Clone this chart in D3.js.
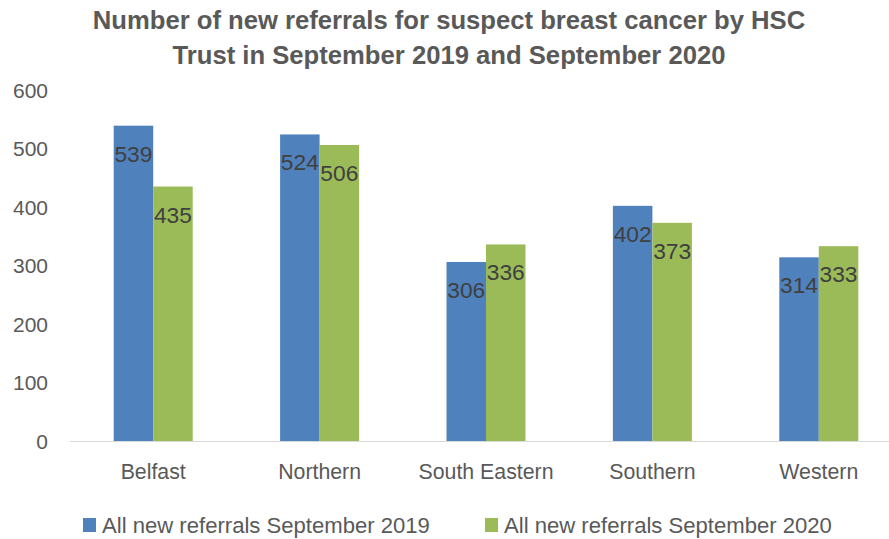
<!DOCTYPE html>
<html><head><meta charset="utf-8">
<script src="https://cdn.jsdelivr.net/npm/d3@7"></script>
<style>body{margin:0;background:#fff}svg{display:block}</style>
</head><body>
<div id="c"></div>
<script>
const categories = ["Belfast","Northern","South Eastern","Southern","Western"];
const seriesNames = ["All new referrals September 2019","All new referrals September 2020"];
const values2019 = [539,524,306,402,314];
const values2020 = [435,506,336,373,333];
const yTicks = [0,100,200,300,400,500,600];
const titleLines = ["Number of new referrals for suspect breast cancer by HSC","Trust in September 2019 and September 2020"];
const colors = ["#4F81BD","#9BBB59"];

const W=889,H=539;
const FONT="'Liberation Sans', Arial, sans-serif";
const svg=d3.select("#c").append("svg").attr("width",W).attr("height",H).style("font-family",FONT);

function fit(sel,target){
  const n=sel.node(); const fs=parseFloat(sel.attr("font-size"));
  const w=n.getComputedTextLength(); return fs*target/w;
}

const x0=d3.scaleBand().domain(categories).range([70,902]).paddingInner(0).paddingOuter(0);
const groupW=79;
const x1=d3.scaleBand().domain([0,1]).range([0,groupW]);
const y=d3.scaleLinear().domain([0,600]).range([441,90]);

svg.append("line").attr("x1",70).attr("x2",W).attr("y1",y(0)+0.5).attr("y2",y(0)+0.5).attr("stroke","#D9D9D9").attr("stroke-width",1.2);

const yAxis=d3.axisLeft(y).tickValues(yTicks).tickSize(0).tickPadding(0);
const yg=svg.append("g").attr("transform","translate(48,0)").call(yAxis);
yg.select(".domain").remove();
yg.selectAll("text").attr("fill","#595959").attr("font-size",20).attr("font-family",FONT).attr("dy","0.35em");
let fsT=fit(yg.selectAll("text").filter(d=>d===600),35);
yg.selectAll("text").attr("font-size",fsT);

const data=categories.map((c,i)=>({c,vals:[values2019[i],values2020[i]]}));
const g=svg.append("g").selectAll("g").data(data).join("g")
  .attr("transform",d=>`translate(${x0(d.c)+x0.bandwidth()/2-groupW/2},0)`);
g.selectAll("rect").data(d=>d.vals.map((v,k)=>({v,k}))).join("rect")
  .attr("x",d=>x1(d.k)).attr("width",x1.bandwidth())
  .attr("y",d=>y(d.v)).attr("height",d=>y(0)-y(d.v)).attr("fill",d=>colors[d.k]);
const vl=g.selectAll("text").data(d=>d.vals.map((v,k)=>({v,k}))).join("text")
  .attr("x",d=>x1(d.k)+x1.bandwidth()/2).attr("y",d=>y(d.v)+28)
  .attr("text-anchor","middle").attr("dominant-baseline","central")
  .attr("fill","#404040").attr("font-size",20).text(d=>d.v);
const fsV=fit(d3.select(vl.nodes()[0]),38);
vl.attr("font-size",fsV);

const xl=svg.append("g").selectAll("text").data(categories).join("text")
  .attr("x",d=>x0(d)+x0.bandwidth()/2).attr("y",472).attr("text-anchor","middle")
  .attr("dominant-baseline","central").attr("fill","#595959").attr("font-size",20).text(d=>d);
const fsX=fit(xl.filter(d=>d==="South Eastern"),135);
xl.attr("font-size",fsX);

const tl=svg.append("g").selectAll("text").data(titleLines).join("text")
  .attr("x",449).attr("y",(d,i)=>20+i*35).attr("text-anchor","middle").attr("dominant-baseline","central")
  .attr("font-weight","bold").attr("fill","#595959").attr("font-size",22).text(d=>d);
const titleW=[704,560];
tl.each(function(d,i){const s=d3.select(this); s.attr("font-size",fit(s,titleW[i]));});
// keep both lines same size (average)
const fsA=d3.mean(tl.nodes(),n=>parseFloat(n.getAttribute("font-size")));
tl.attr("font-size",fsA);

const legX=[83,485];
const lg=svg.append("g").selectAll("g").data(seriesNames).join("g").attr("transform",(d,i)=>`translate(${legX[i]},525)`);
lg.append("rect").attr("x",0).attr("y",-7).attr("width",13).attr("height",14).attr("fill",(d,i)=>colors[i]);
const lt=lg.append("text").attr("x",19).attr("y",0).attr("dominant-baseline","central").attr("fill","#595959").attr("font-size",20).text(d=>d);
const fsL=fit(d3.select(lt.nodes()[0]),328);
lt.attr("font-size",fsL);
</script>
</body></html>
